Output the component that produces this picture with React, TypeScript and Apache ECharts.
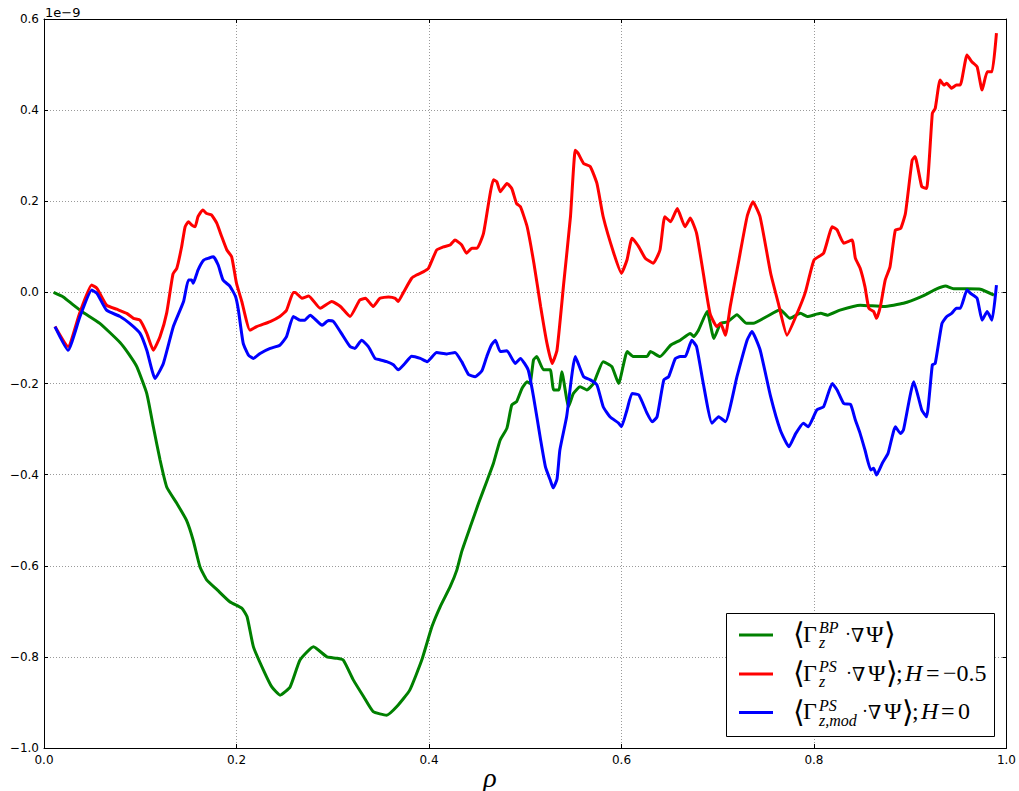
import React, { useEffect, useRef } from "react";
import * as echarts from "echarts";

// x = rho, y in units of 1e-9
const greenBP: [number, number][] = [
  [0.010, 0.0], [0.02, -0.01], [0.03, -0.027], [0.04, -0.043], [0.058, -0.068], [0.079, -0.11],
  [0.088, -0.135], [0.0964, -0.163], [0.1068, -0.222], [0.1136, -0.295], [0.1206, -0.368],
  [0.1275, -0.427], [0.138, -0.463], [0.148, -0.5], [0.155, -0.544], [0.162, -0.602], [0.169, -0.631],
  [0.18, -0.653], [0.193, -0.679], [0.2055, -0.693], [0.211, -0.712], [0.2176, -0.778], [0.228, -0.829],
  [0.2367, -0.866], [0.2453, -0.884], [0.2557, -0.866], [0.266, -0.807], [0.28, -0.778], [0.294, -0.8],
  [0.304, -0.803], [0.311, -0.807], [0.3215, -0.851], [0.332, -0.887], [0.342, -0.92], [0.356, -0.928],
  [0.3666, -0.909], [0.38, -0.873], [0.3925, -0.807], [0.403, -0.734], [0.4116, -0.69], [0.422, -0.646],
  [0.429, -0.609], [0.434, -0.569], [0.443, -0.514], [0.4515, -0.463], [0.46, -0.415], [0.467, -0.375],
  [0.474, -0.324], [0.481, -0.298], [0.486, -0.247], [0.491, -0.24], [0.4966, -0.211], [0.502, -0.196],
  [0.505, -0.2], [0.5086, -0.148], [0.512, -0.141], [0.519, -0.17], [0.526, -0.17], [0.5295, -0.214],
  [0.535, -0.214], [0.538, -0.174], [0.545, -0.251], [0.55, -0.222], [0.557, -0.207], [0.564, -0.214],
  [0.571, -0.2], [0.581, -0.152], [0.59, -0.163], [0.597, -0.2], [0.606, -0.13], [0.6126, -0.141],
  [0.6265, -0.141], [0.63, -0.13], [0.64, -0.141], [0.651, -0.116], [0.661, -0.105], [0.6715, -0.09],
  [0.675, -0.097], [0.68, -0.083], [0.689, -0.042], [0.696, -0.101], [0.703, -0.068], [0.71, -0.065],
  [0.72, -0.049], [0.73, -0.068], [0.737, -0.068], [0.751, -0.053], [0.765, -0.038], [0.775, -0.057],
  [0.786, -0.046], [0.793, -0.053], [0.807, -0.046], [0.814, -0.05], [0.827, -0.039], [0.848, -0.028],
  [0.8725, -0.031], [0.893, -0.024], [0.911, -0.01], [0.928, 0.008], [0.9366, 0.014], [0.945, 0.008],
  [0.959, 0.008], [0.973, 0.007], [0.987, -0.006],
];

const redPS: [number, number][] = [
  [0.0114, -0.075], [0.025, -0.119], [0.037, -0.046], [0.0495, 0.016], [0.055, 0.009], [0.065, -0.028],
  [0.0755, -0.037], [0.086, -0.046], [0.093, -0.057], [0.0998, -0.061], [0.1068, -0.09], [0.1136, -0.127],
  [0.1206, -0.097], [0.1275, -0.045], [0.134, 0.04], [0.138, 0.053], [0.143, 0.1], [0.1466, 0.144],
  [0.15, 0.155], [0.1535, 0.148], [0.157, 0.144], [0.16, 0.166], [0.165, 0.181], [0.169, 0.173],
  [0.174, 0.17], [0.1795, 0.152], [0.1847, 0.122], [0.19, 0.093], [0.195, 0.078], [0.2, 0.02],
  [0.2055, -0.02], [0.214, -0.083], [0.221, -0.075], [0.235, -0.064], [0.245, -0.053], [0.252, -0.039],
  [0.259, 0.0], [0.261, 0.0], [0.268, -0.013], [0.275, -0.008], [0.287, -0.035], [0.299, -0.02],
  [0.308, -0.031], [0.318, -0.053], [0.328, -0.017], [0.334, -0.013], [0.342, -0.031], [0.349, -0.013],
  [0.358, -0.01], [0.365, -0.013], [0.368, -0.02], [0.3735, 0.0], [0.382, 0.031], [0.387, 0.038],
  [0.394, 0.045], [0.3995, 0.053], [0.408, 0.093], [0.415, 0.1], [0.422, 0.104], [0.427, 0.115],
  [0.434, 0.104], [0.439, 0.086], [0.4446, 0.097], [0.45, 0.097], [0.4567, 0.13], [0.467, 0.247],
  [0.4705, 0.243], [0.474, 0.221], [0.481, 0.239], [0.486, 0.228], [0.491, 0.195], [0.495, 0.188],
  [0.502, 0.144], [0.509, 0.064], [0.516, -0.031], [0.5226, -0.112], [0.528, -0.156], [0.533, -0.127],
  [0.54, 0.02], [0.547, 0.166], [0.552, 0.312], [0.555, 0.305], [0.5606, 0.283], [0.5676, 0.276],
  [0.5745, 0.239], [0.581, 0.166], [0.592, 0.086], [0.6, 0.042], [0.6057, 0.071], [0.611, 0.119],
  [0.618, 0.1], [0.6247, 0.075], [0.633, 0.064], [0.64, 0.093], [0.645, 0.166], [0.651, 0.155],
  [0.658, 0.184], [0.666, 0.144], [0.6715, 0.163], [0.678, 0.13], [0.685, 0.042], [0.692, -0.046],
  [0.699, -0.075], [0.703, -0.068], [0.708, -0.094], [0.713, -0.031], [0.722, 0.071], [0.7305, 0.166],
  [0.7366, 0.199], [0.744, 0.166], [0.755, 0.042], [0.763, -0.024], [0.772, -0.094], [0.7825, -0.046],
  [0.791, 0.0], [0.8, 0.071], [0.81, 0.086], [0.819, 0.144], [0.824, 0.137], [0.831, 0.108],
  [0.8396, 0.115], [0.843, 0.075], [0.848, 0.053], [0.853, 0.012], [0.857, -0.035], [0.862, -0.042],
  [0.865, -0.057], [0.869, -0.031], [0.874, 0.027], [0.879, 0.056], [0.8846, 0.137], [0.89, 0.14],
  [0.895, 0.173], [0.902, 0.29], [0.905, 0.298], [0.912, 0.232], [0.917, 0.228], [0.923, 0.393],
  [0.926, 0.404], [0.931, 0.466], [0.935, 0.455], [0.938, 0.459], [0.943, 0.448], [0.948, 0.455],
  [0.952, 0.455], [0.959, 0.521], [0.964, 0.506], [0.9695, 0.495], [0.9747, 0.444], [0.98, 0.484],
  [0.985, 0.484], [0.9896, 0.569],
];

const bluePSmod: [number, number][] = [
  [0.0114, -0.075], [0.025, -0.127], [0.0374, -0.053], [0.0496, 0.005], [0.055, -0.002], [0.065, -0.039],
  [0.079, -0.053], [0.089, -0.068], [0.0998, -0.09], [0.1068, -0.127], [0.1154, -0.189], [0.124, -0.156],
  [0.1344, -0.075], [0.145, -0.02], [0.15, 0.027], [0.1535, 0.027], [0.155, 0.02], [0.16, 0.049],
  [0.166, 0.071], [0.171, 0.075], [0.176, 0.078], [0.181, 0.06], [0.186, 0.027], [0.193, 0.014],
  [0.199, -0.009], [0.202, -0.039], [0.207, -0.112], [0.2125, -0.138], [0.2176, -0.145], [0.2245, -0.134],
  [0.235, -0.123], [0.245, -0.116], [0.252, -0.097], [0.259, -0.053], [0.266, -0.061], [0.271, -0.061],
  [0.2765, -0.05], [0.289, -0.072], [0.2955, -0.062], [0.3007, -0.064], [0.309, -0.09], [0.318, -0.119],
  [0.323, -0.123], [0.33, -0.105], [0.337, -0.119], [0.344, -0.145], [0.349, -0.148], [0.356, -0.152],
  [0.363, -0.159], [0.368, -0.17], [0.375, -0.156], [0.382, -0.14], [0.391, -0.145], [0.398, -0.152],
  [0.408, -0.132], [0.4186, -0.135], [0.427, -0.132], [0.434, -0.152], [0.441, -0.18], [0.448, -0.185],
  [0.455, -0.172], [0.46, -0.141], [0.465, -0.115], [0.469, -0.105], [0.474, -0.13], [0.481, -0.128],
  [0.4896, -0.156], [0.495, -0.145], [0.503, -0.17], [0.5086, -0.229], [0.516, -0.324], [0.521, -0.383],
  [0.526, -0.412], [0.529, -0.429], [0.533, -0.41], [0.536, -0.346], [0.543, -0.273], [0.552, -0.141],
  [0.5606, -0.185], [0.5676, -0.192], [0.5745, -0.203], [0.581, -0.251], [0.588, -0.273], [0.597, -0.287],
  [0.6, -0.295], [0.6057, -0.258], [0.611, -0.222], [0.618, -0.225], [0.6265, -0.265], [0.632, -0.284],
  [0.637, -0.273], [0.644, -0.192], [0.649, -0.185], [0.656, -0.145], [0.661, -0.141], [0.6663, -0.141],
  [0.673, -0.105], [0.678, -0.119], [0.685, -0.2], [0.694, -0.287], [0.701, -0.273], [0.708, -0.284],
  [0.72, -0.185], [0.7305, -0.105], [0.7356, -0.086], [0.744, -0.126], [0.755, -0.229], [0.765, -0.302],
  [0.774, -0.339], [0.781, -0.31], [0.789, -0.287], [0.794, -0.295], [0.803, -0.258], [0.81, -0.251],
  [0.819, -0.2], [0.824, -0.214], [0.831, -0.244], [0.838, -0.246], [0.843, -0.28], [0.848, -0.31],
  [0.853, -0.346], [0.859, -0.39], [0.862, -0.386], [0.865, -0.401], [0.871, -0.375], [0.877, -0.353],
  [0.8846, -0.295], [0.89, -0.31], [0.893, -0.302], [0.9037, -0.196], [0.912, -0.258], [0.917, -0.273],
  [0.923, -0.159], [0.926, -0.156], [0.933, -0.068], [0.938, -0.053], [0.943, -0.046], [0.948, -0.035],
  [0.952, -0.035], [0.959, 0.005], [0.9626, -0.002], [0.9695, -0.013], [0.9747, -0.061], [0.98, -0.042],
  [0.985, -0.061], [0.9896, 0.016],
];

const X_MIN = 0, X_MAX = 1.0, X_STEP = 0.2;
const Y_MIN = -1.0, Y_MAX = 0.6, Y_STEP = 0.2;
const Y_SCALE_LABEL = "1e\u22129";
const X_LABEL = "\u03C1";

// legend label parts
const legendSup = ["BP", "PS", "PS"];
const legendSub = ["z", "z", "z,mod"];
const legendValue = ["", "\u22120.5", "0"];

const fmt = (v: number) => {
  const s = (Math.abs(v) < 1e-9 ? 0 : v).toFixed(1);
  return s.replace("-", "\u2212");
};

const SERIF = "'Liberation Serif','DejaVu Serif',serif";
const SANS = "'DejaVu Sans',sans-serif";

export default function App() {
  const ref = useRef<HTMLDivElement>(null);
  useEffect(() => {
    if (!ref.current) return;
    const chart = echarts.init(ref.current, undefined, { renderer: "svg" });
    const gridL = 44, gridT = 19, gridW = 963, gridH = 729;
    const tick = { show: true, inside: true, length: 4, lineStyle: { color: "#000", width: 1 } };
    const split = { show: true, lineStyle: { color: "#9a9a9a", width: 1, type: [1, 2] as any } };
    const axisLine = { show: true, onZero: false, lineStyle: { color: "#000", width: 1 } };
    const labelStyle = { color: "#000", fontSize: 12, fontFamily: SANS };

    // legend layout (pixel positions)
    const colors = ["#008000", "#ff0000", "#0000ff"];
    const lineYs = [635, 674, 712.5];
    const rows = [
      { dot: 847, nabla: 851, psi: 866, close: 885, semi: 0, H: 0, eq: 0, val: 0 },
      { dot: 848, nabla: 852, psi: 868, close: 887, semi: 896, H: 905, eq: 926, val: 943 },
      { dot: 864, nabla: 868, psi: 884, close: 903, semi: 912, H: 921, eq: 941, val: 958 },
    ];
    const T = (text: string, x: number, y: number, font: string) => ({
      type: "text", x, y, z: 11,
      style: { text, font, fill: "#000", align: "left", verticalAlign: "middle" },
    });
    const MAIN = `24px ${SERIF}`;
    const DOT = `18px ${SERIF}`;
    const NABLA = `19px 'DejaVu Serif',serif`;
    const ITAL = `italic 24px ${SERIF}`;
    const SMALL = `italic 16px ${SERIF}`;
    const BRACK = `30px 'DejaVu Sans',sans-serif`;
    const legendEls: any[] = [
      { type: "rect", shape: { x: 726.5, y: 613.5, width: 268, height: 123 }, style: { fill: "#fff", stroke: "#000", lineWidth: 1 }, z: 10 },
    ];
    lineYs.forEach((ly, i) => {
      const y = ly - 1.5;
      const r = rows[i];
      legendEls.push({ type: "line", shape: { x1: 739, y1: ly, x2: 773, y2: ly }, style: { stroke: colors[i], lineWidth: 3 }, z: 11 });
      legendEls.push(T("\u27E8", 793, y, BRACK));
      legendEls.push(T("\u0393", 803, y, MAIN));
      legendEls.push(T(legendSub[i], 819, y + 9, SMALL));
      legendEls.push(T(legendSup[i], 819, y - 6, SMALL));
      legendEls.push(T("\u00B7", r.dot - 2, y, DOT));
      legendEls.push(T("\u2207", r.nabla, y + 1, NABLA));
      legendEls.push(T("\u03A8", r.psi, y, MAIN));
      legendEls.push(T("\u27E9", r.close - 1, y, BRACK));
      if (legendValue[i]) {
        legendEls.push(T(";", r.semi, y, MAIN));
        legendEls.push(T("H", r.H, y, ITAL));
        legendEls.push(T("=", r.eq, y, MAIN));
        legendEls.push(T(legendValue[i], r.val, y, MAIN));
      }
    });

    chart.setOption({
      animation: false,
      backgroundColor: "#fff",
      grid: { left: gridL, top: gridT, width: gridW, height: gridH, show: false },
      xAxis: [
        {
          type: "value", min: X_MIN, max: X_MAX, interval: X_STEP, position: "bottom",
          axisLine, axisTick: tick, splitLine: split,
          axisLabel: { ...labelStyle, margin: 6, formatter: (v: number) => fmt(v) },
        },
        {
          type: "value", min: X_MIN, max: X_MAX, interval: X_STEP, position: "top",
          axisLine, axisTick: tick, splitLine: { show: false }, axisLabel: { show: false },
        },
      ],
      yAxis: [
        {
          type: "value", min: Y_MIN, max: Y_MAX, interval: Y_STEP, position: "left",
          axisLine, axisTick: tick, splitLine: split,
          axisLabel: { ...labelStyle, margin: 5, formatter: (v: number) => fmt(v) },
        },
        {
          type: "value", min: Y_MIN, max: Y_MAX, interval: Y_STEP, position: "right",
          axisLine, axisTick: tick, splitLine: { show: false }, axisLabel: { show: false },
        },
      ],
      series: [
        { name: "BP", type: "line", data: greenBP, showSymbol: false, smooth: 0.15, lineStyle: { color: "#008000", width: 3 }, itemStyle: { color: "#008000" } },
        { name: "PS", type: "line", data: redPS, showSymbol: false, smooth: 0.15, lineStyle: { color: "#ff0000", width: 3 }, itemStyle: { color: "#ff0000" } },
        { name: "PSmod", type: "line", data: bluePSmod, showSymbol: false, smooth: 0.15, lineStyle: { color: "#0000ff", width: 3 }, itemStyle: { color: "#0000ff" } },
      ],
      graphic: [
        { type: "text", x: 45, y: 12, style: { text: Y_SCALE_LABEL, font: `13px ${SANS}`, fill: "#000", align: "left", verticalAlign: "middle" } },
        { type: "text", x: 490, y: 777, style: { text: X_LABEL, font: `italic 28px ${SERIF}`, fill: "#000", align: "center", verticalAlign: "middle" } },
        ...legendEls,
      ],
    });
    return () => chart.dispose();
  }, []);
  return <div ref={ref} style={{ position: "fixed", left: 0, top: 0, width: 1019, height: 791, background: "#fff" }} />;
}
